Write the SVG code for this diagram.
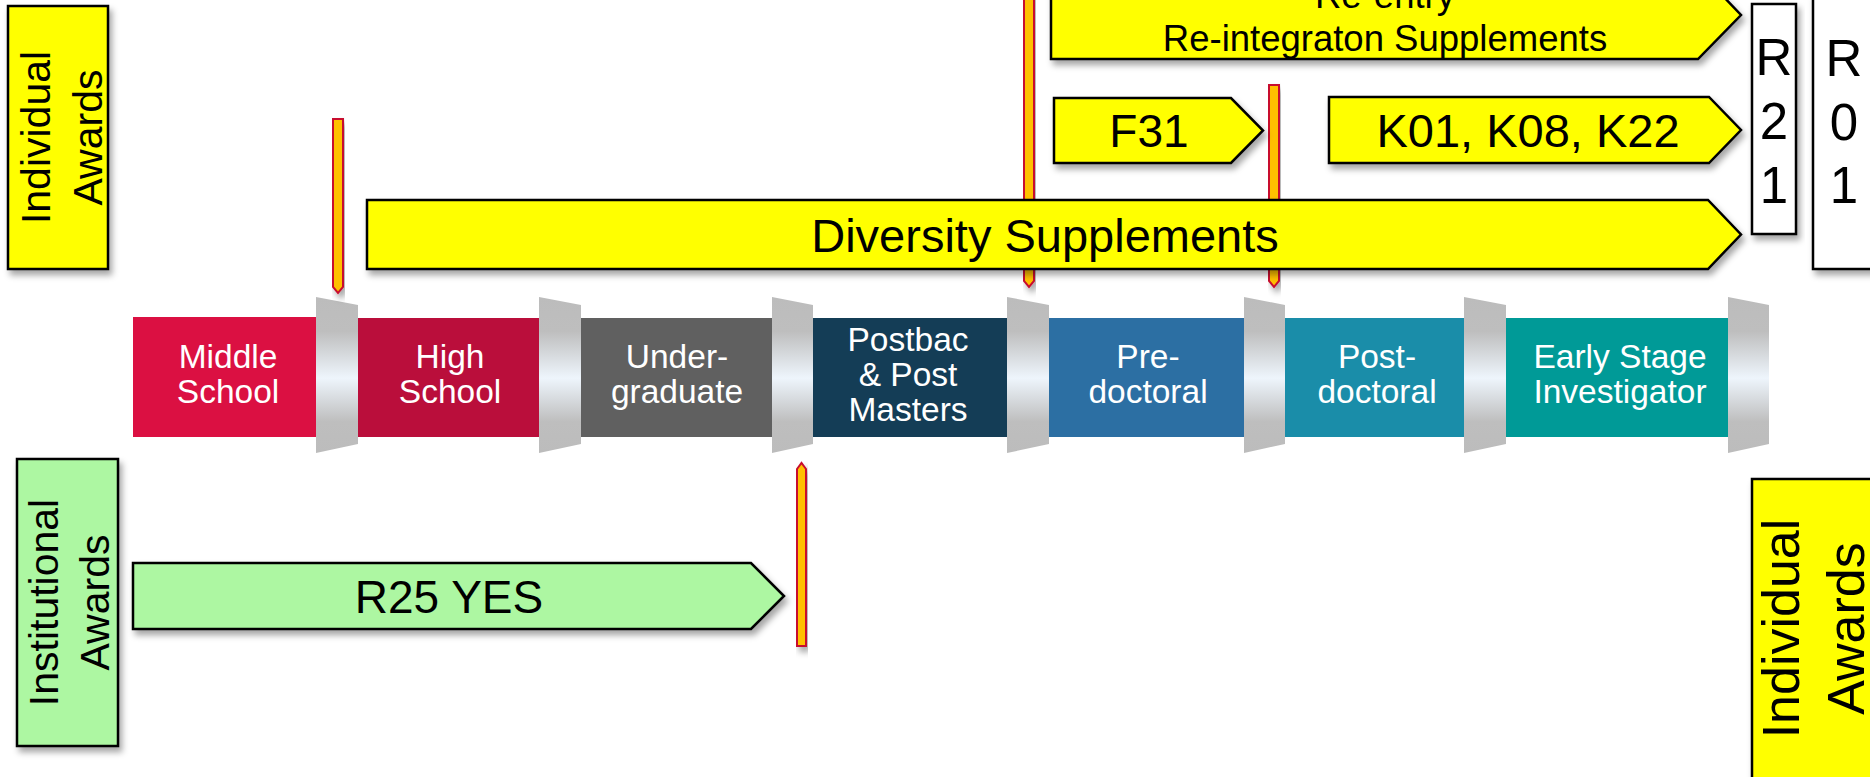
<svg xmlns="http://www.w3.org/2000/svg" width="1870" height="777" viewBox="0 0 1870 777">
<defs>
<linearGradient id="sepGrad" x1="0" y1="0" x2="0" y2="1">
<stop offset="0" stop-color="#BCBCBC"/>
<stop offset="0.22" stop-color="#BEBEBE"/>
<stop offset="0.52" stop-color="#EEF5FC"/>
<stop offset="0.8" stop-color="#BEBEBE"/>
<stop offset="1" stop-color="#BCBCBC"/>
</linearGradient>
<filter id="shadow" x="-10%" y="-20%" width="130%" height="150%">
<feDropShadow dx="3" dy="5" stdDeviation="3" flood-color="#000" flood-opacity="0.35"/>
</filter>
</defs>
<style>
text { font-family: "Liberation Sans", Arial, sans-serif; }
.band { fill: #FFFFFF; font-size: 33.5px; text-anchor: middle; }
.lbl { fill: #000000; text-anchor: middle; }
.ybox { fill: #FFFF00; stroke: #000; stroke-width: 2.5; filter: url(#shadow); }
.gbox { fill: #ADF7A2; stroke: #000; stroke-width: 2.5; filter: url(#shadow); }
.wbox { fill: #FFFFFF; stroke: #000; stroke-width: 2.5; filter: url(#shadow); }
.sep { fill: url(#sepGrad); }
.mk { fill: #FFC000; stroke: #C8102E; stroke-width: 2; filter: url(#shadow); }
</style>
<rect width="1870" height="777" fill="#FFFFFF"/>

<!-- stage band -->
<g id="middle-school"><rect x="133" y="317" width="185" height="120" fill="#DB1042"/>
<text class="band" x="228" y="368">Middle</text><text class="band" x="228" y="403">School</text></g>
<g id="high-school"><rect x="357" y="318" width="183" height="119" fill="#BA0E3B"/>
<text class="band" x="450" y="368">High</text><text class="band" x="450" y="403">School</text></g>
<g id="undergraduate"><rect x="580" y="318" width="193" height="119" fill="#606060"/>
<text class="band" x="677" y="368">Under-</text><text class="band" x="677" y="403">graduate</text></g>
<g id="postbac"><rect x="812" y="318" width="196" height="119" fill="#143D56"/>
<text class="band" x="908" y="351">Postbac</text><text class="band" x="908" y="386">&amp; Post</text><text class="band" x="908" y="421">Masters</text></g>
<g id="predoctoral"><rect x="1048" y="318" width="197" height="119" fill="#2C6FA3"/>
<text class="band" x="1148" y="368">Pre-</text><text class="band" x="1148" y="403">doctoral</text></g>
<g id="postdoctoral"><rect x="1284" y="318" width="181" height="119" fill="#1A8DA9"/>
<text class="band" x="1377" y="368">Post-</text><text class="band" x="1377" y="403">doctoral</text></g>
<g id="early-stage"><rect x="1505" y="318" width="224" height="119" fill="#009A97"/>
<text class="band" x="1620" y="368">Early Stage</text><text class="band" x="1620" y="403">Investigator</text></g>

<g id="separators">
<polygon class="sep" points="316,297 358,305 358,444 316,453"/>
<polygon class="sep" points="539,297 581,305 581,444 539,453"/>
<polygon class="sep" points="772,297 813,305 813,444 772,453"/>
<polygon class="sep" points="1007,297 1049,305 1049,444 1007,453"/>
<polygon class="sep" points="1244,297 1285,305 1285,444 1244,453"/>
<polygon class="sep" points="1464,297 1506,305 1506,444 1464,453"/>
<polygon class="sep" points="1728,297 1769,305 1769,444 1728,453"/>
</g>

<!-- stage markers (drawn beneath the award arrows) -->
<g id="connectors">
<polygon class="mk" points="333,119 343,119 343,287 338,293 333,287"/>
<polygon class="mk" points="1024,-10 1034,-10 1034,281 1029,287 1024,281"/>
<polygon class="mk" points="1269,85 1279,85 1279,281 1274,287 1269,281"/>
<polygon class="mk" points="797,469 801.5,463 806,469 806,646 797,646"/>
</g>

<!-- side labels -->
<g id="individual-awards-top">
<rect class="ybox" x="8" y="6" width="100" height="263"/>
<text class="lbl" font-size="41" transform="rotate(-90)" x="-137.5" y="50">Individual</text>
<text class="lbl" font-size="41" transform="rotate(-90)" x="-137.5" y="102">Awards</text>
</g>
<g id="institutional-awards">
<rect class="gbox" x="17" y="459" width="101" height="287"/>
<text class="lbl" font-size="41" transform="rotate(-90)" x="-602.5" y="58">Institutional</text>
<text class="lbl" font-size="41" transform="rotate(-90)" x="-602.5" y="109">Awards</text>
</g>
<g id="individual-awards-bottom">
<rect class="ybox" x="1752" y="479" width="130" height="310"/>
<text class="lbl" font-size="52" transform="rotate(-90)" x="-628.5" y="1799">Individual</text>
<text class="lbl" font-size="52" transform="rotate(-90)" x="-628.5" y="1864">Awards</text>
</g>

<!-- award arrows -->
<g id="reentry">
<polygon class="ybox" points="1051,-30 1698,-30 1741,15 1698,59 1051,59"/>
<text class="lbl" font-size="36.5" x="1385" y="8">Re-entry</text>
<text class="lbl" font-size="36.5" x="1385" y="51">Re-integraton Supplements</text>
</g>
<g id="f31">
<polygon class="ybox" points="1054,98 1231,98 1263,130.5 1231,163 1054,163"/>
<text class="lbl" font-size="46" x="1149" y="147">F31</text>
</g>
<g id="k-awards">
<polygon class="ybox" points="1329,97 1709,97 1741,130 1709,163 1329,163"/>
<text class="lbl" font-size="47" x="1528" y="147">K01, K08, K22</text>
</g>
<g id="diversity">
<polygon class="ybox" points="367,200 1708,200 1741,234.5 1708,269 367,269"/>
<text class="lbl" font-size="47" x="1045" y="252">Diversity Supplements</text>
</g>
<g id="r25">
<polygon class="gbox" points="133,563 751,563 784,596 751,629 133,629"/>
<text class="lbl" font-size="46" x="449" y="613">R25 YES</text>
</g>
<g id="r21">
<rect class="wbox" x="1752" y="4" width="44" height="230"/>
<text class="lbl" font-size="51" x="1774" y="75">R</text>
<text class="lbl" font-size="51" x="1774" y="139">2</text>
<text class="lbl" font-size="51" x="1774" y="203">1</text>
</g>
<g id="r01">
<rect class="wbox" x="1813" y="-6" width="70" height="275"/>
<text class="lbl" font-size="51" x="1844" y="76">R</text>
<text class="lbl" font-size="51" x="1844" y="140">0</text>
<text class="lbl" font-size="51" x="1844" y="203">1</text>
</g>
</svg>
